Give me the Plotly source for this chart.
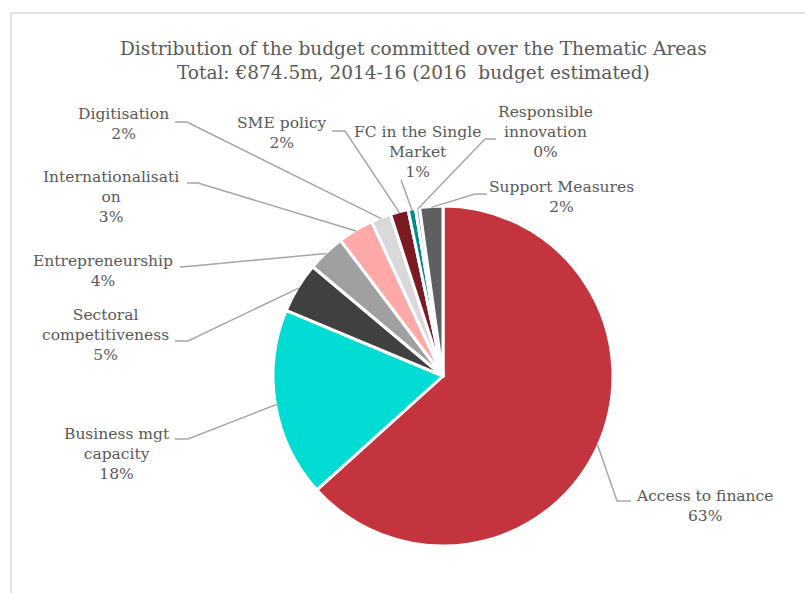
import math
import plotly.graph_objects as go

# Budget committed per thematic area, EUR million (2014-16, 2016 estimated)
areas = [
    "Access to finance", "Business mgt capacity", "Sectoral competitiveness",
    "Entrepreneurship", "Internationalisation", "Digitisation", "SME policy",
    "FC in the Single Market", "Responsible innovation", "Support Measures",
]
budget_m = [553.6, 157.4, 42.0, 31.5, 29.7, 16.6, 14.9, 6.1, 3.5, 19.2]

# Wrapped label text as shown next to the pie
label_lines = [
    "Access to finance", "Business mgt<br>capacity", "Sectoral<br>competitiveness",
    "Entrepreneurship", "Internationalisati<br>on", "Digitisation", "SME policy",
    "FC in the Single<br>Market", "Responsible<br>innovation", "Support Measures",
]
colors = ["#C3343F", "#00DBD4", "#404040", "#A0A0A0", "#FFA9A9",
          "#D9D9D9", "#7A1B24", "#008C8A", "#7FB2D6", "#5F5F5F"]

W, H = 805, 593
CX, CY, R = 443, 376, 170          # pie centre and radius in pixels
TEXT = "#595959"
LEADER = "#A6A6A6"
FONT = "DejaVu Serif"

# label centre (px) and leader anchor: label-side start, elbow
label_pos = [
    (704, 506, (631, 501), (617, 501)),
    (117, 454, (175, 439), (188, 439)),
    (105, 335, (175, 341), (188, 341)),
    (103, 271, (180, 267), (193, 266)),
    (111, 197, (187, 183), (198, 183)),
    (123, 124, (175, 122), (187, 122)),
    (282, 133, (332, 131), (345, 131)),
    (417, 152, (401, 180), (401, 180)),
    (545, 132, (496, 139), (485, 139)),
    (561, 197, (487, 194), (475, 194)),
]


def px(x):
    return x / W


def py(y):
    return 1 - y / H


total = sum(budget_m)
fig = go.Figure(go.Pie(
    labels=areas,
    values=budget_m,
    sort=False,
    direction="clockwise",
    rotation=0,
    textinfo="none",
    marker=dict(colors=colors, line=dict(color="white", width=3)),
    domain=dict(x=[px(CX - R), px(CX + R)], y=[py(CY + R), py(CY - R)]),
    showlegend=False,
))

shapes = [
    # chart area frame
    dict(type="rect", xref="paper", yref="paper",
         x0=px(11), y0=py(13), x1=px(W + 10), y1=py(H + 10),
         line=dict(color="#D9D9D9", width=1.5), fillcolor="rgba(0,0,0,0)", layer="below"),
]
annotations = []

cum = 0.0
for name, val, (tx, ty, p0, p1) in zip(label_lines, budget_m, label_pos):
    mid = (cum + val / 2) / total * 2 * math.pi
    cum += val
    ex = CX + (R - 1) * math.sin(mid)
    ey = CY - (R - 1) * math.cos(mid)
    path = f"M {px(p0[0])},{py(p0[1])} L {px(p1[0])},{py(p1[1])} L {px(ex)},{py(ey)}"
    shapes.append(dict(type="path", xref="paper", yref="paper", path=path,
                       line=dict(color=LEADER, width=1.5)))
    pct = round(val / total * 100)
    annotations.append(dict(
        x=px(tx), y=py(ty), xref="paper", yref="paper",
        xanchor="center", yanchor="middle", showarrow=False,
        text=f"{name}<br>{pct}%", align="center",
        font=dict(family=FONT, size=15.5, color=TEXT),
    ))

annotations.append(dict(
    x=px(413), y=py(60), xref="paper", yref="paper",
    xanchor="center", yanchor="middle", showarrow=False, align="center",
    text=("Distribution of the budget committed over the Thematic Areas<br>"
          f"Total: €{total:.1f}m, 2014-16 (2016  budget estimated)"),
    font=dict(family=FONT, size=18.5, color=TEXT),
))

fig.update_layout(
    width=W, height=H,
    margin=dict(l=0, r=0, t=0, b=0),
    paper_bgcolor="white", plot_bgcolor="white",
    shapes=shapes, annotations=annotations,
)

fig.write_html("out.html")
